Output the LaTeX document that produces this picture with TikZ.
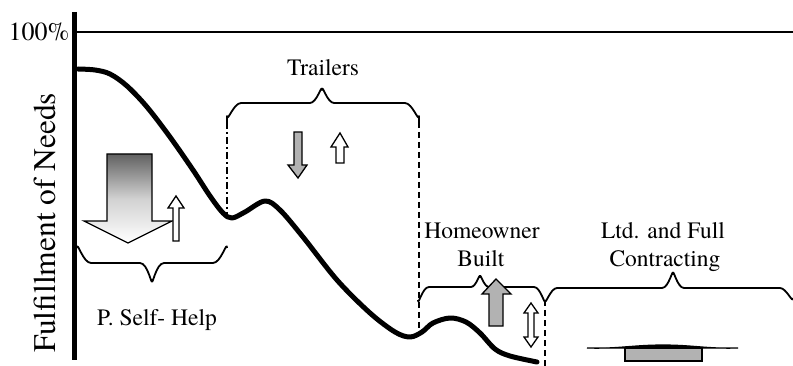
\documentclass[tikz,border=0pt]{standalone}
\usepackage{fontspec}
\setmainfont{texgyretermes-regular.otf}
\begin{document}
\begin{tikzpicture}[x=1pt,y=-1pt,
  lbl/.style={font=\fontsize{23.5}{26}\selectfont, inner sep=0pt, anchor=base},
  bracel/.style={line width=1.8pt, line join=round},
  arr/.style={draw=black, line width=1.3pt, line join=miter},
  grayfill/.style={fill=black!30}]
\useasboundingbox (0,0) rectangle (793,366);
% axes
\draw[line width=2pt] (77,32) -- (793,32);
\draw[line width=5pt] (74,12) -- (74,360);
\node[inner sep=0pt, anchor=base, font=\fontsize{26}{28}\selectfont] (hundred) at (39,41) {100\%};
\node[inner sep=0pt, anchor=base, rotate=90, font=\fontsize{31.5}{34}\selectfont] (ylab) at (55,223) {Fulfillment of Needs};
% main curve
\draw[line width=5pt, line cap=round, line join=round] plot[smooth, tension=0.55] coordinates {
 (78,69) (95,70) (110,74) (127,86) (147,107) (170,137) (193,170) (210,196) (223,213) (232,218)
 (245,212) (265,201) (280,210) (303,237) (337,280) (370,313) (395,332) (410,337) (422,332)
 (433,323) (450,318) (466,322) (480,333) (495,349) (510,356) (537,362)};
% dashed separators
\draw[line width=1.8pt, dash pattern=on 7pt off 3pt on 2pt off 3pt] (227,122) -- (227,215);
\draw[line width=1.8pt, dash pattern=on 6pt off 4pt] (419,122) -- (419,328);
\draw[line width=1.8pt, dash pattern=on 6pt off 4pt] (545,300) -- (545,366);
% braces
\draw[bracel] (77,248) to[out=90,in=180] (91,263) -- (140,263) to[out=0,in=270] (152,280)
  to[out=270,in=180] (164,263) -- (213,263) to[out=0,in=90] (227,248);
\draw[bracel] (227,122) -- (227,116) to[out=270,in=180] (241,103) -- (310,103) to[out=0,in=90] (322,90)
  to[out=90,in=180] (334,103) -- (405,103) to[out=0,in=270] (419,116) -- (419,122);
\draw[bracel] (418,300) to[out=270,in=180] (429,287) -- (471,287) to[out=0,in=90] (480,277)
  to[out=90,in=180] (489,287) -- (534,287) to[out=0,in=270] (545,300);
\draw[bracel] (545,300) to[out=270,in=180] (557,288) -- (662,288) to[out=0,in=90] (673,274)
  to[out=90,in=180] (684,288) -- (780,288) to[out=0,in=270] (793,298);
% labels
\node[lbl] (trailers) at (323,76) {Trailers};
\node[lbl] (selfhelp) at (157,325) {P. Self- Help};
\node[lbl] (home1) at (482,239) {Homeowner};
\node[lbl] (home2) at (481,267) {Built};
\node[lbl] (ltd1) at (663,239) {Ltd. and Full};
\node[lbl] (ltd2) at (665,267) {Contracting};
% big gradient down arrow
\path[arr, top color=black!62, bottom color=white, middle color=black!18]
  (107,154) -- (152,154) -- (152,221) -- (172,221) -- (128,243) -- (84,221) -- (107,221) -- cycle;
% small white up arrow (self-help)
\draw[arr, fill=white] (173,241) -- (173,208) -- (168,208) -- (176,196) -- (184,208) -- (179,208) -- (179,241) -- cycle;
% trailers arrows
\draw[arr, grayfill] (294,132) -- (302,132) -- (302,165) -- (307,165) -- (298,178) -- (288,165) -- (294,165) -- cycle;
\draw[arr, fill=white] (336,163) -- (336,147) -- (331,147) -- (340,133) -- (348,147) -- (344,147) -- (344,163) -- cycle;
% homeowner arrows
\draw[arr, grayfill] (489,326) -- (489,294) -- (482,294) -- (496,279) -- (511,294) -- (503,294) -- (503,326) -- cycle;
\draw[arr, fill=white] (528,313) -- (524,313) -- (531,303) -- (538,313) -- (534,313) -- (534,337)
  -- (538,337) -- (531,347) -- (524,337) -- (528,337) -- cycle;
% contracting flat shape
\draw[line width=1.2pt, fill=black] (587,348) to[out=-2,in=180] (663,345) to[out=0,in=182] (738,348) -- cycle;
\draw[line width=1.3pt, grayfill] (625,348) rectangle (702,361);
\end{tikzpicture}
\end{document}
